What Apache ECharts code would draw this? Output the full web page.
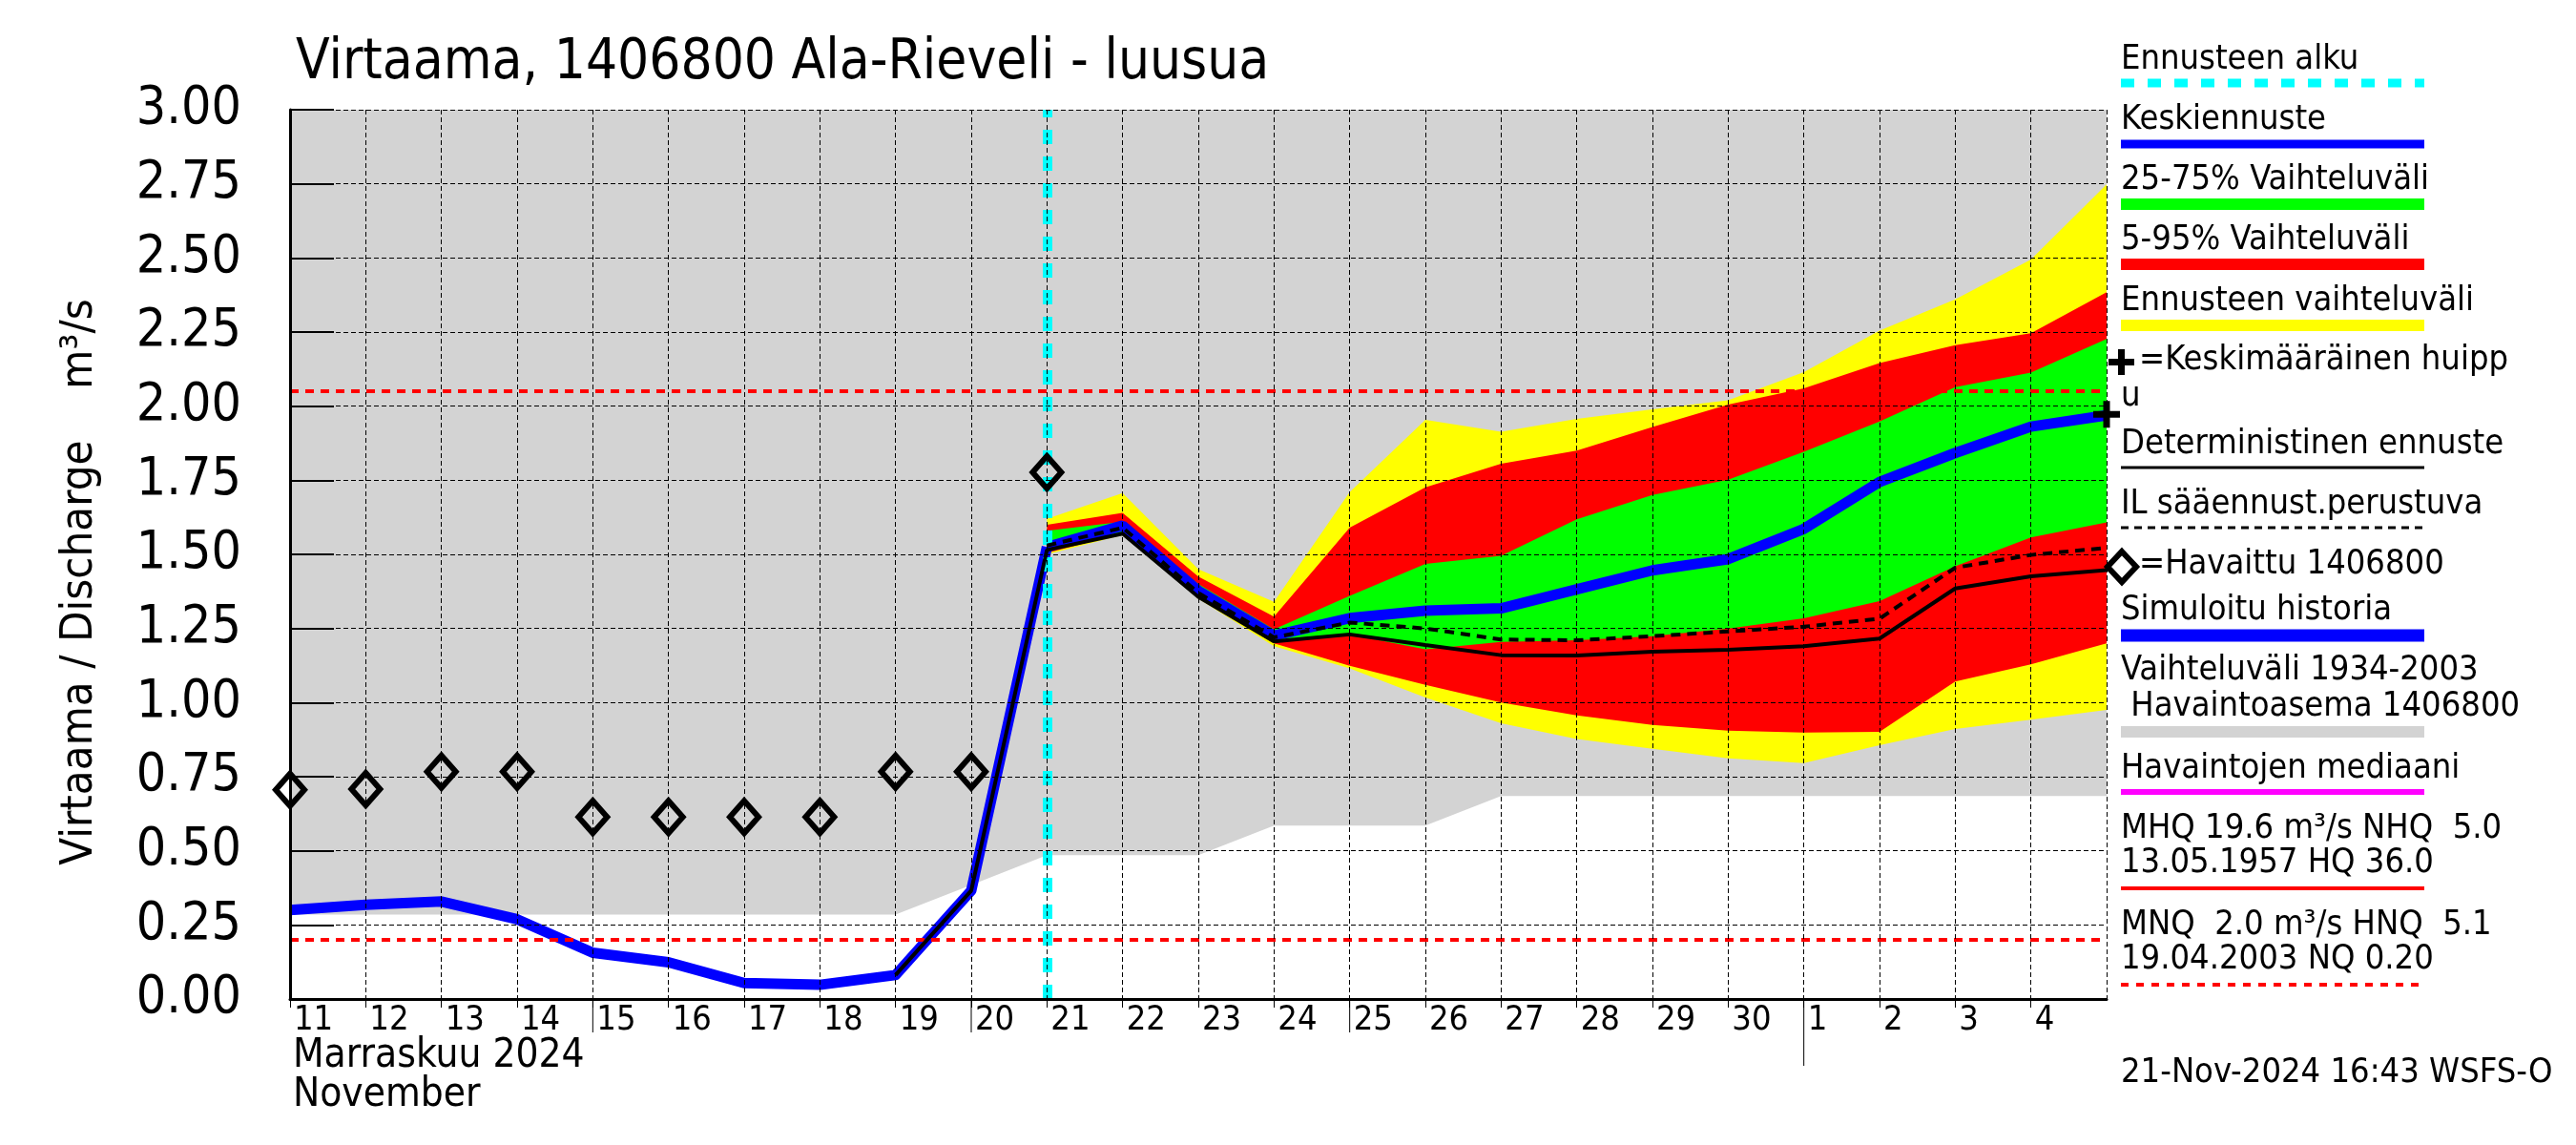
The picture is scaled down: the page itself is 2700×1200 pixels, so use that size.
<!DOCTYPE html>
<html><head><meta charset="utf-8">
<script src="https://cdn.jsdelivr.net/npm/echarts@6/dist/echarts.min.js"></script>
<style>html,body{margin:0;padding:0;background:#fff}#c{width:2700px;height:1200px}</style>
</head><body><div id="c"></div>
<script>
// ---------- DATA ----------
// category positions are day boundaries: index 0 = 11 Nov 2024 00:00 ... 24 = 5 Dec 2024 00:00
const dayLabels = ['11','12','13','14','15','16','17','18','19','20','21','22','23','24','25','26','27','28','29','30','1','2','3','4',''];
const yTickLabels = ['0.00','0.25','0.50','0.75','1.00','1.25','1.50','1.75','2.00','2.25','2.50','2.75','3.00'];
const titleText = 'Virtaama, 1406800 Ala-Rieveli - luusua';
const yAxisTitle = 'Virtaama / Discharge    m³/s';
const monthLabels = ['Marraskuu 2024', 'November'];
const stampText = '21-Nov-2024 16:43 WSFS-O';

// observed (diamonds), 11 Nov .. 21 Nov
const observed = [0.706,0.708,0.767,0.767,0.614,0.614,0.614,0.614,0.767,0.767,1.777];
// simulated history (blue), 11 Nov .. 21 Nov
const simHistory = [0.300,0.318,0.329,0.269,0.156,0.124,0.054,0.048,0.081,0.366,1.525];
// historical range 1934-2003 (grey), 11 Nov .. 5 Dec
const histLow  = [0.285,0.285,0.285,0.285,0.285,0.285,0.285,0.285,0.285,0.385,0.485,0.485,0.485,0.585,0.585,0.585,0.685,0.685,0.685,0.685,0.685,0.685,0.685,0.685,0.685];
const histHigh = [3,3,3,3,3,3,3,3,3,3,3,3,3,3,3,3,3,3,3,3,3,3,3,3,3];
// forecast, 21 Nov .. 5 Dec
const fcStart = 10;
const fcMean = [1.525,1.597,1.377,1.226,1.285,1.310,1.318,1.382,1.446,1.484,1.586,1.744,1.842,1.931,1.969];
const fcMax  = [1.620,1.707,1.450,1.340,1.710,1.954,1.914,1.957,1.989,2.020,2.115,2.255,2.360,2.495,2.748];
const fcP95  = [1.600,1.640,1.425,1.290,1.590,1.726,1.806,1.850,1.930,2.005,2.060,2.145,2.206,2.246,2.384];
const fcP75  = [1.580,1.610,1.400,1.247,1.360,1.468,1.495,1.618,1.700,1.752,1.846,1.948,2.064,2.113,2.227];
const fcP25  = [1.510,1.575,1.360,1.210,1.230,1.180,1.205,1.210,1.224,1.250,1.284,1.342,1.460,1.557,1.608];
const fcP5   = [1.505,1.570,1.355,1.200,1.124,1.060,1.000,0.957,0.925,0.905,0.899,0.901,1.071,1.129,1.200];
const fcMin  = [1.500,1.565,1.350,1.190,1.115,1.017,0.930,0.877,0.844,0.812,0.796,0.856,0.911,0.942,0.975];
const ilForecast = [1.530,1.590,1.370,1.220,1.270,1.250,1.213,1.210,1.224,1.240,1.256,1.283,1.455,1.498,1.522];
// deterministic forecast, 19 Nov .. 5 Dec
const detStart = 8;
const deterministic = [0.081,0.366,1.515,1.570,1.357,1.206,1.230,1.194,1.160,1.159,1.172,1.178,1.190,1.216,1.385,1.426,1.447];
// mean peak (+)
const meanPeakX = 24, meanPeakY = 1.972;
// reference lines
const refHigh = 2.05, refLow = 0.20;
const monthBoundary = 20;      // 1 Dec
const longTickDays = [4, 9, 14]; // 15, 20, 25 Nov

const legendLabels = ['Ennusteen alku','Keskiennuste','25-75% Vaihteluväli','5-95% Vaihteluväli','Ennusteen vaihteluväli',
  '=Keskimääräinen huipp','u','Deterministinen ennuste','IL sääennust.perustuva','=Havaittu 1406800','Simuloitu historia',
  'Vaihteluväli 1934-2003',' Havaintoasema 1406800','Havaintojen mediaani','MHQ 19.6 m³/s NHQ  5.0','13.05.1957 HQ 36.0',
  'MNQ  2.0 m³/s HNQ  5.1','19.04.2003 NQ 0.20'];

// ---------- BUILD ----------
const FONT = '"Liberation Sans Narrow","DejaVu Sans Condensed","Roboto Condensed","Liberation Sans",sans-serif';
const N = dayLabels.length;
const full = (start, arr) => { const a = new Array(N).fill(null); arr.forEach((v,i)=>{a[start+i]=v;}); return a; };
const fullDiff = (start, hi, lo) => full(start, hi.map((v,i)=>+(v-lo[i]).toFixed(4)));
const pts = (start, arr) => arr.map((v,i)=>[start+i, v]);
function band(id, start, lo, hi, color){
  return [
    {type:'line', name:id+'_base', stack:id, z:2, data:full(start,lo), symbol:'none', silent:true,
     lineStyle:{width:0,opacity:0}},
    {type:'line', name:id, stack:id, z:2, data:fullDiff(start,hi,lo), symbol:'none', silent:true,
     lineStyle:{width:0,opacity:0}, areaStyle:{color:color, opacity:1}}
  ];
}
const series = [
  ...band('hist', 0, histLow, histHigh, '#D3D3D3'),
  ...band('yellow', fcStart, fcMin, fcMax, '#FFFF00'),
  ...band('red', fcStart, fcP5, fcP95, '#FF0000'),
  ...band('green', fcStart, fcP25, fcP75, '#00FF00'),
  {type:'line', name:'refs', z:3, data:[], silent:true,
   markLine:{symbol:'none', silent:true, label:{show:false}, animation:false,
     data:[
       {yAxis:refHigh, lineStyle:{color:'#FF0000', width:4, type:[9,7]}},
       {yAxis:refLow, lineStyle:{color:'#FF0000', width:4, type:[9,7]}},
       {xAxis:dayLabels[fcStart], lineStyle:{color:'#00FFFF', width:10, type:[15,13]}}
     ]}},
  {type:'line', name:'Simuloitu historia', z:4, data:full(0, simHistory), symbol:'none', silent:true,
   lineStyle:{color:'#0000FF', width:11, join:'round'}},
  {type:'line', name:'Keskiennuste', z:4, data:full(fcStart, fcMean), symbol:'none', silent:true,
   lineStyle:{color:'#0000FF', width:11}},
  {type:'line', name:'Deterministinen ennuste', z:5, data:full(detStart, deterministic), symbol:'none', silent:true,
   lineStyle:{color:'#000', width:4}},
  {type:'line', name:'IL', z:5, data:full(fcStart, ilForecast), symbol:'none', silent:true,
   lineStyle:{color:'#000', width:4, type:[10,7]}},
  {type:'scatter', name:'Havaittu', z:8, data:pts(0, observed), symbol:'diamond', symbolSize:[30,34], silent:true, clip:false,
   itemStyle:{color:'rgba(255,255,255,0)', borderColor:'#000', borderWidth:6, opacity:1}},
  {type:'scatter', name:'huippu', z:8, data:[[meanPeakX, meanPeakY]], symbol:'path://M9,0h6v9h9v6h-9v9h-6v-9h-9v-6h9z',
   symbolSize:28, silent:true, clip:false, itemStyle:{color:'#000', opacity:1}}
];

// legend / text graphics
const g = [];
const LX = 2223, LX2 = 2541, LFS = 36;
function txt(s, x, baseline, fs){
  g.push({type:'text', z:100, x:x, y:baseline - 0.35*fs,
    style:{text:s, x:0, y:0, font: fs+'px '+FONT, fill:'#000', verticalAlign:'middle', textVerticalAlign:'middle'}});
}
const legendBase = [75,138,201,264,328,390,428,478,541,604,652,715,753,818,881,917,982,1018];
const legendX    = [LX,LX,LX,LX,LX,2242,LX,LX,LX,2242,LX,LX,LX,LX,LX,LX,LX,LX];
legendLabels.forEach((s,i)=>txt(s, legendX[i], legendBase[i], LFS));
const legendLines = [
  {y:87,w:9,c:'#00FFFF',d:[14,14]},{y:151,w:9,c:'#0000FF'},{y:214,w:12,c:'#00FF00'},{y:277,w:12,c:'#FF0000'},
  {y:341,w:12,c:'#FFFF00'},{y:490,w:3,c:'#000'},{y:553,w:3,c:'#000',d:[8,6]},{y:666,w:13,c:'#0000FF'},
  {y:767,w:12,c:'#D3D3D3'},{y:830,w:6,c:'#FF00FF'},{y:931,w:4,c:'#FF0000'},{y:1032,w:4,c:'#FF0000',d:[8,8]}
];
legendLines.forEach(l=>g.push({type:'line', z:100, shape:{x1:LX, y1:l.y, x2:LX2, y2:l.y},
  style:{stroke:l.c, lineWidth:l.w, lineDash:l.d||null}}));
// legend plus and diamond
g.push({type:'rect', z:100, shape:{x:2210, y:376, width:27, height:7}, style:{fill:'#000'}});
g.push({type:'rect', z:100, shape:{x:2220, y:366, width:7, height:27}, style:{fill:'#000'}});
g.push({type:'polygon', z:100, shape:{points:[[2224,578],[2239,594],[2224,610],[2209,594]]},
  style:{fill:'none', stroke:'#000', lineWidth:6}});
// title, axis title, month labels, stamp
txt(titleText, 310, 87, 58);
g.push({type:'text', z:100, x:84, y:610, rotation:Math.PI/2,
  style:{text:yAxisTitle, x:0, y:0, font:'47px '+FONT, fill:'#000', align:'center', textAlign:'center', verticalAlign:'middle', textVerticalAlign:'middle'}});
txt(monthLabels[0], 307, 1122, 42);
txt(monthLabels[1], 307, 1163, 42);
txt(stampText, LX, 1137, LFS);

const chart = echarts.init(document.getElementById('c'), null, {renderer:'canvas'});
chart.setOption({
  animation:false,
  backgroundColor:'#fff',
  grid:{left:304, right:492, top:115, bottom:153, containLabel:false},
  xAxis:{type:'category', data:dayLabels, boundaryGap:false, z:50,
    axisLine:{show:true, onZero:false, lineStyle:{color:'#000', width:3}},
    axisTick:{show:true, inside:false, length:9, interval:(i)=>i < N-1, lineStyle:{color:'#000', width:1}},
    axisLabel:{show:true, interval:0, align:'left', margin:5, padding:[0,0,0,4], color:'#000', fontSize:36, fontFamily:FONT},
    splitLine:{show:true, interval:0, lineStyle:{color:'#000', width:1, type:[5,3]}}},
  yAxis:{type:'value', min:0, max:3, interval:0.25, z:50,
    axisLine:{show:true, lineStyle:{color:'#000', width:3}},
    axisTick:{show:true, inside:true, length:46, lineStyle:{color:'#000', width:2}},
    axisLabel:{margin:51, color:'#000', fontSize:55, fontFamily:FONT, padding:[0,0,16,0],
      formatter:v=>yTickLabels[Math.round(v/0.25)]},
    splitLine:{show:true, lineStyle:{color:'#000', width:1, type:[5,3]}}},
  series:series,
  graphic:g
});
// longer ticks (every fifth day) and the month-boundary tick
longTickDays.forEach(d=>{
  const p = chart.convertToPixel({xAxisIndex:0, yAxisIndex:0}, [d, 0]);
  g.push({type:'line', z:100, shape:{x1:p[0], y1:p[1], x2:p[0], y2:p[1]+35}, style:{stroke:'#000', lineWidth:1}});
});
const p0 = chart.convertToPixel({xAxisIndex:0, yAxisIndex:0}, [monthBoundary, 0]);
g.push({type:'line', z:100, shape:{x1:p0[0], y1:p0[1], x2:p0[0], y2:p0[1]+70}, style:{stroke:'#000', lineWidth:1}});
chart.setOption({graphic:g});
</script>
</body></html>
